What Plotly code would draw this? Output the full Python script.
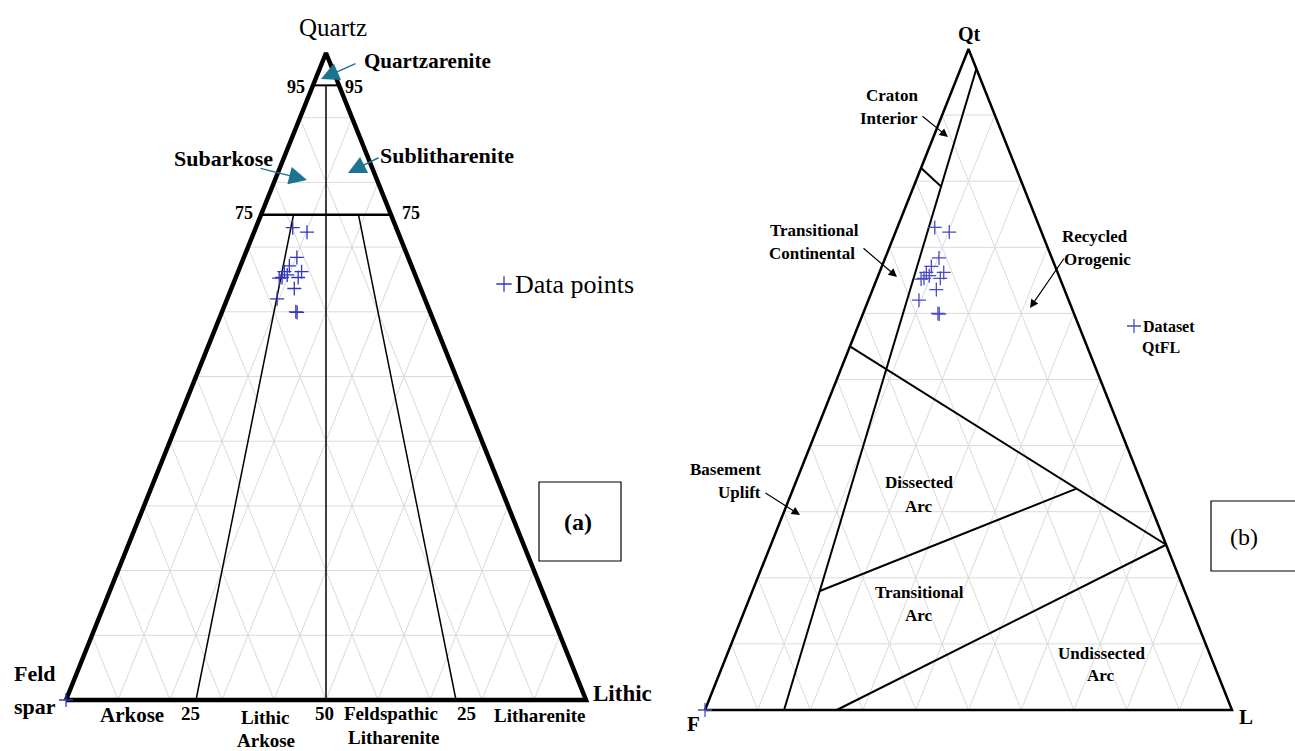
import plotly.graph_objects as go

W, H = 1295, 751

# Sample compositions in percent (quartz, feldspar, lithic fragments)
quartz   = [73.0, 72.3, 68.4, 67.1, 66.2, 66.2, 65.7, 65.3, 65.2, 65.3, 63.6, 62.0, 60.0, 59.9, 0.0]
feldspar = [19.9, 17.5, 21.4, 23.5, 21.6, 24.9, 24.6, 25.8, 26.4, 22.7, 24.3, 28.4, 25.8, 25.6, 100.0]
lithic   = [7.1, 10.2, 10.2, 9.4, 12.2, 8.9, 9.7, 8.9, 8.4, 12.0, 12.1, 9.6, 14.2, 14.5, 0.0]

# Folk sandstone classification boundaries, segment endpoints as (Q, F, L)
folk_q95    = [(95, 5, 0), (95, 0, 5)]
folk_q75    = [(75, 25, 0), (75, 0, 25)]
folk_mid    = [(95, 2.5, 2.5), (0, 50, 50)]
folk_left   = [(75, 18.75, 6.25), (0, 75, 25)]
folk_right  = [(75, 6.25, 18.75), (0, 25, 75)]

# Dickinson provenance field boundaries, segment endpoints as (Qt, F, L)
prov_block     = [(97, 0, 3), (0, 85, 15)]
prov_craton    = [(82, 18, 0), (79.2, 15.6, 5.2)]
prov_arc_top   = [(55, 45, 0), (25, 0, 75)]
prov_arc_mid   = [(18, 69.2, 12.8), (33.5, 12.75, 53.75)]
prov_arc_low   = [(0, 75, 25), (25, 0, 75)]

FONT = "Liberation Serif"


def tern(q, f, l):
    """Ternary composition -> plane coordinates (x along F-L base, y = Q)."""
    s = q + f + l
    q, l = 100 * q / s, 100 * l / s
    return l + q / 2.0, q


def seg_xy(segs):
    xs, ys = [], []
    for a, b in segs:
        x0, y0 = tern(*a)
        x1, y1 = tern(*b)
        xs += [x0, x1, None]
        ys += [y0, y1, None]
    return xs, ys


def grid_segs(step=10):
    segs = []
    for k in range(step, 100, step):
        segs.append(((k, 100 - k, 0), (k, 0, 100 - k)))      # constant Q
        segs.append(((100 - k, k, 0), (0, k, 100 - k)))      # constant F
        segs.append(((100 - k, 0, k), (0, 100 - k, k)))      # constant L
    return segs


fig = go.Figure()

# Panel placement: (F corner px, L corner px, apex px, x domain)
panels = {
    "a": dict(F=(66, 700), L=(586, 700), Q=(326, 53), dom=(0.0, 0.5), xa="x", ya="y"),
    "b": dict(F=(705, 710), L=(1232, 710), Q=(968.5, 49), dom=(0.5, 1.0), xa="x2", ya="y2"),
}


def axis_ranges(p):
    fx, fy = p["F"]
    lx, _ = p["L"]
    _, qy = p["Q"]
    sx = (lx - fx) / 100.0
    sy = (fy - qy) / 100.0
    d0, d1 = p["dom"][0] * W, p["dom"][1] * W
    xr = [(d0 - fx) / sx, (d1 - fx) / sx]
    yr = [(fy - H) / sy, fy / sy]
    return xr, yr


def add_lines(segs, p, color, width):
    xs, ys = seg_xy(segs)
    fig.add_trace(go.Scatter(x=xs, y=ys, mode="lines", xaxis=p["xa"], yaxis=p["ya"],
                             line=dict(color=color, width=width), hoverinfo="skip",
                             showlegend=False))


def add_outline(p, width):
    corners = [(0, 100, 0), (0, 0, 100), (100, 0, 0), (0, 100, 0)]
    xs = [tern(*c)[0] for c in corners]
    ys = [tern(*c)[1] for c in corners]
    fig.add_trace(go.Scatter(x=xs, y=ys, mode="lines", xaxis=p["xa"], yaxis=p["ya"],
                             line=dict(color="black", width=width), hoverinfo="skip",
                             showlegend=False))


def add_samples(p, color):
    xs, ys = [], []
    for q, f, l in zip(quartz, feldspar, lithic):
        x, y = tern(q, f, l)
        xs.append(x)
        ys.append(y)
    fig.add_trace(go.Scatter(x=xs, y=ys, mode="markers", xaxis=p["xa"], yaxis=p["ya"],
                             marker=dict(symbol="cross-thin", size=10,
                                         line=dict(color=color, width=1.3)),
                             showlegend=False))


pa, pb = panels["a"], panels["b"]

# ---- panel (a): Folk classification ----
add_lines(grid_segs(), pa, "#dadada", 1)
add_lines([folk_mid, folk_left, folk_right], pa, "black", 1.5)
add_lines([folk_q95], pa, "black", 2)
add_lines([folk_q75], pa, "black", 2.5)
add_outline(pa, 4.5)
add_samples(pa, "#3535c0")

# ---- panel (b): QtFL provenance ----
add_lines(grid_segs(), pb, "#dadada", 1)
add_lines([prov_block, prov_craton, prov_arc_top, prov_arc_mid, prov_arc_low], pb, "black", 2)
add_outline(pb, 2.5)
add_samples(pb, "#4a4ac8")


def px(x):
    return x / W


def py(y):
    return 1 - y / H


annotations = []


def label(text, x, y, size, bold=True, anchor="center"):
    t = f"<b>{text}</b>" if bold else text
    annotations.append(dict(text=t, x=px(x), y=py(y), xref="paper", yref="paper",
                            xanchor=anchor, yanchor="middle", showarrow=False,
                            font=dict(family=FONT, size=size, color="black")))


def arrow(tail, tip, color, width, size):
    annotations.append(dict(text="", x=px(tip[0]), y=py(tip[1]), xref="paper", yref="paper",
                            ax=tail[0] - tip[0], ay=tail[1] - tip[1],
                            showarrow=True, arrowhead=2, arrowsize=size, arrowwidth=width,
                            arrowcolor=color, standoff=0, startstandoff=0))


# panel (a) text
label("Quartz", 333, 27, 25, bold=False)
label("Quartzarenite", 427, 61, 21)
label("95", 296, 87, 18)
label("95", 354, 87, 18)
label("Subarkose", 223, 158, 22)
label("Sublitharenite", 447, 156, 22)
label("75", 244, 213, 18)
label("75", 411, 213, 18)
label("Feld", 35, 673, 22)
label("spar", 35, 706, 22)
label("Arkose", 132, 715, 21)
label("25", 190, 713, 19)
label("Lithic", 265, 717, 19)
label("Arkose", 266, 740, 19)
label("50", 324, 713, 19)
label("Feldspathic", 391, 713, 19)
label("Litharenite", 393, 737, 19)
label("25", 466, 713, 19)
label("Litharenite", 539, 715, 19)
label("Lithic", 622, 693, 23)
label("(a)", 578, 522, 24)
label("Data points", 513, 284, 26, bold=False, anchor="left")

teal = "#1d7390"
arrow((357, 63), (321, 79), teal, 1.5, 2.4)
arrow((259, 168), (307, 180), teal, 1.5, 2.4)
arrow((380, 157), (348, 173), teal, 1.5, 2.4)

# panel (b) text
label("Qt", 969, 34, 20)
label("Craton", 892, 96, 17)
label("Interior", 889, 118, 17)
label("Transitional", 814, 230, 17)
label("Continental", 812, 253, 17)
label("Recycled", 1095, 236, 17)
label("Orogenic", 1097, 259, 17)
label("Dataset", 1169, 326, 16)
label("QtFL", 1161, 347, 16)
label("Basement", 725, 469, 17)
label("Uplift", 739, 492, 17)
label("Dissected", 919, 482, 17)
label("Arc", 919, 506, 17)
label("Transitional", 919, 592, 17)
label("Arc", 919, 615, 17)
label("Undissected", 1101, 653, 17)
label("Arc", 1101, 675, 17)
label("F", 693, 724, 21)
label("L", 1246, 717, 21)
label("(b)", 1244, 537, 24, bold=False)

arrow((921, 115), (948, 137), "black", 1.2, 1.4)
arrow((862, 247), (897, 277), "black", 1.2, 1.4)
arrow((1065, 257), (1030, 308), "black", 1.2, 1.4)
arrow((764, 492), (800, 515), "black", 1.2, 1.4)

# legend keys, drawn on a full-figure overlay axis
fig.add_trace(go.Scatter(x=[px(504)], y=[py(284)], mode="markers", xaxis="x3", yaxis="y3",
                         marker=dict(symbol="cross-thin", size=11, line=dict(color="#3535c0", width=1.3)),
                         showlegend=False, hoverinfo="skip"))
fig.add_trace(go.Scatter(x=[px(1134)], y=[py(326)], mode="markers", xaxis="x3", yaxis="y3",
                         marker=dict(symbol="cross-thin", size=10, line=dict(color="#4a4ac8", width=1.3)),
                         showlegend=False, hoverinfo="skip"))

shapes = [
    dict(type="rect", xref="paper", yref="paper", x0=px(539), x1=px(621), y0=py(561), y1=py(482),
         line=dict(color="black", width=1.2)),
    dict(type="rect", xref="paper", yref="paper", x0=px(1211), x1=px(1300), y0=py(571), y1=py(501),
         line=dict(color="black", width=1.2)),
]

xra, yra = axis_ranges(pa)
xrb, yrb = axis_ranges(pb)
hidden = dict(visible=False, fixedrange=True)

fig.update_layout(
    width=W, height=H, margin=dict(l=0, r=0, t=0, b=0),
    paper_bgcolor="white", plot_bgcolor="rgba(0,0,0,0)",
    showlegend=False, hovermode=False,
    xaxis=dict(domain=list(pa["dom"]), range=xra, anchor="y", **hidden),
    yaxis=dict(domain=[0, 1], range=yra, anchor="x", **hidden),
    xaxis2=dict(domain=list(pb["dom"]), range=xrb, anchor="y2", **hidden),
    yaxis2=dict(domain=[0, 1], range=yrb, anchor="x2", **hidden),
    xaxis3=dict(domain=[0, 1], range=[0, 1], anchor="y3", **hidden),
    yaxis3=dict(domain=[0, 1], range=[0, 1], anchor="x3", **hidden),
    annotations=annotations,
    shapes=shapes,
)

fig.write_html("out.html")
